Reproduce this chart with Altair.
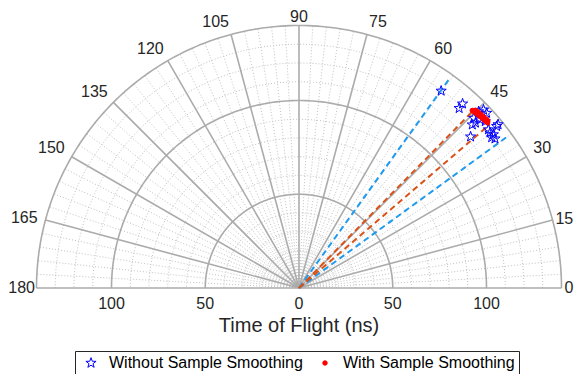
import math
import altair as alt
import pandas as pd

series_names = ["Without Sample Smoothing", "With Sample Smoothing"]
star_theta = [54.2, 48.3, 48.4, 44.5, 44.0, 43.0, 44.2, 43.3, 43.1, 42.9,
              41.8, 39.4, 39.3, 39.9, 39.1, 38.3, 38.0, 37.3, 41.4]
star_r = [129.6, 128.4, 131.4, 134.3, 136.8, 136.8, 130.0, 127.0, 128.9, 131.9,
          133.3, 137.4, 136.2, 131.7, 131.3, 132.1, 130.4, 131.4, 122.0]
dot_theta = [45.7, 45.4, 45.1, 44.9, 44.6, 44.3, 44.0, 43.8, 43.5, 43.2,
             42.9, 42.6, 42.3, 42.0, 41.7, 41.4, 41.2, 45.2, 44.5, 43.7,
             42.8, 42.0, 41.5]
dot_r = [132.3, 132.8, 132.5, 133.0, 132.7, 133.2, 132.9, 133.4, 133.0, 133.5,
         133.2, 133.7, 133.3, 133.8, 133.5, 134.0, 133.7, 133.6, 134.0, 134.2,
         134.3, 134.6, 134.4]
blue_ray_theta = [54.3, 36.0]
blue_ray_r = [138.0, 137.5]
orange_ray_theta = [45.5, 40.6]
orange_ray_r = [134.0, 134.0]

r_max = 140
major_rings = [50, 100, 140]
minor_rings = [10, 20, 30, 40, 60, 70, 80, 90, 110, 120, 130]
major_spokes = list(range(0, 181, 15))
minor_spokes = [a for a in range(0, 181, 3) if a % 15]
angle_labels = {a: str(a) for a in major_spokes}
radial_ticks = [-100, -50, 0, 50, 100]
radial_labels = ["100", "50", "0", "50", "100"]
x_title = "Time of Flight (ns)"

W, H = 566, 366
PX = 1.875          # pixels per ns
CX, CY = 291, 280   # polar origin inside plot area
xs = alt.Scale(domain=[-CX / PX, (W - CX) / PX], nice=False, zero=False)
ys = alt.Scale(domain=[-(H - CY) / PX, CY / PX], nice=False, zero=False)
X = alt.X("x:Q", scale=xs, axis=None)
Y = alt.Y("y:Q", scale=ys, axis=None)
POLAR = dict(x="datum.r*cos(datum.t*PI/180)", y="datum.r*sin(datum.t*PI/180)")
FONT = "Liberation Sans"
TXT = "#262626"

# pentagram symbol path (unit coordinates)
_pts = []
for k in range(10):
    a = math.radians(-90 + 36 * k)
    rr = 1.0 if k % 2 == 0 else 0.4
    _pts.append(f"{rr * math.cos(a):.3f},{rr * math.sin(a):.3f}")
STAR = "M" + " L".join(_pts) + " Z"

arc_deg = list(range(0, 181))


def rings(radii):
    return pd.DataFrame([{"id": i, "k": j, "r": r, "t": float(a)}
                         for i, r in enumerate(radii) for j, a in enumerate(arc_deg)])


def spokes(angles, ends=None):
    ends = ends or [r_max] * len(angles)
    return pd.DataFrame([{"id": i, "k": j, "r": rr, "t": float(a)}
                         for i, a in enumerate(angles) for j, rr in enumerate([0, ends[i]])])


def lines(df, **mk):
    return alt.Chart(df).transform_calculate(**POLAR).mark_line(**mk).encode(
        x=X, y=Y, detail="id:N", order="k:Q")


minor_style = dict(color="#c2c2c2", strokeWidth=1, strokeDash=[1, 2])
major_style = dict(color="#ababab", strokeWidth=1.6)

layers = [
    lines(rings(minor_rings), **minor_style),
    lines(spokes(minor_spokes), **minor_style),
    lines(spokes(major_spokes), **major_style),
    lines(rings(major_rings), **major_style),
    lines(spokes(blue_ray_theta, blue_ray_r), color="#1E9BEF", strokeWidth=2, strokeDash=[6, 4]),
    lines(spokes(orange_ray_theta, orange_ray_r), color="#D95319", strokeWidth=2, strokeDash=[6, 4]),
]

pts = pd.DataFrame(
    [{"series": series_names[0], "r": r, "t": t} for r, t in zip(star_r, star_theta)]
    + [{"series": series_names[1], "r": r, "t": t} for r, t in zip(dot_r, dot_theta)])
layers.append(alt.Chart(pts).transform_calculate(**POLAR)
              .mark_point(opacity=1, strokeWidth=1)
              .encode(x=X, y=Y,
                      color=alt.Color("series:N", scale=alt.Scale(domain=series_names, range=["#0000ff", "#ff0000"]),
                                      legend=alt.Legend(title=None)),
                      fill=alt.Fill("series:N", scale=alt.Scale(domain=series_names, range=["transparent", "#ff0000"]),
                                    legend=alt.Legend(title=None)),
                      shape=alt.Shape("series:N", scale=alt.Scale(domain=series_names, range=[STAR, "circle"]),
                                      legend=alt.Legend(title=None)),
                      size=alt.Size("series:N", scale=alt.Scale(domain=series_names, range=[115, 20]),
                                    legend=alt.Legend(title=None))))


def angle_text(angles, r_ns, align, baseline, dx=0):
    df = pd.DataFrame({"t": angles, "lab": [angle_labels[a] for a in angles], "r": [r_ns] * len(angles)})
    return (alt.Chart(df).transform_calculate(**POLAR)
            .mark_text(font=FONT, fontSize=16, color=TXT, align=align, baseline=baseline, dx=dx)
            .encode(x=X, y=Y, text="lab:N"))


layers += [
    angle_text([30, 45, 60, 75], 144.3, "left", "alphabetic"),
    angle_text([105, 120, 135, 150], 144.3, "right", "alphabetic"),
    angle_text([90], 142.1, "center", "alphabetic"),
    angle_text([0, 15], 141.6, "left", "middle"),
    angle_text([165], 144.3, "right", "middle"),
    angle_text([180], 140.8, "right", "middle"),
]

rlab = pd.DataFrame({"x": radial_ticks, "lab": radial_labels, "y": [0] * len(radial_ticks)})
layers.append(alt.Chart(rlab)
              .mark_text(font=FONT, fontSize=16, color=TXT, align="center", baseline="middle", dy=16)
              .encode(x=X, y=Y, text="lab:N"))

layers.append(alt.Chart(pd.DataFrame({"x": [0], "y": [0], "lab": [x_title]}))
              .mark_text(font=FONT, fontSize=20, color=TXT, align="center", baseline="middle", dy=38)
              .encode(x=X, y=Y, text="lab:N"))

chart = (alt.layer(*layers)
         .properties(width=W, height=H, padding=0, autosize=alt.AutoSizeParams(type="none"))
         .configure_view(stroke=None)
         .configure_legend(orient="none", legendX=67, legendY=343, direction="horizontal",
                           strokeColor="#262626", fillColor="white", padding=4,
                           labelFont=FONT, labelFontSize=16, labelColor="#000000", labelLimit=0,
                           symbolOffset=4, labelOffset=10, columnPadding=10, symbolStrokeWidth=1))

chart.save("out.html", embed_options={"renderer": "svg", "actions": False})
